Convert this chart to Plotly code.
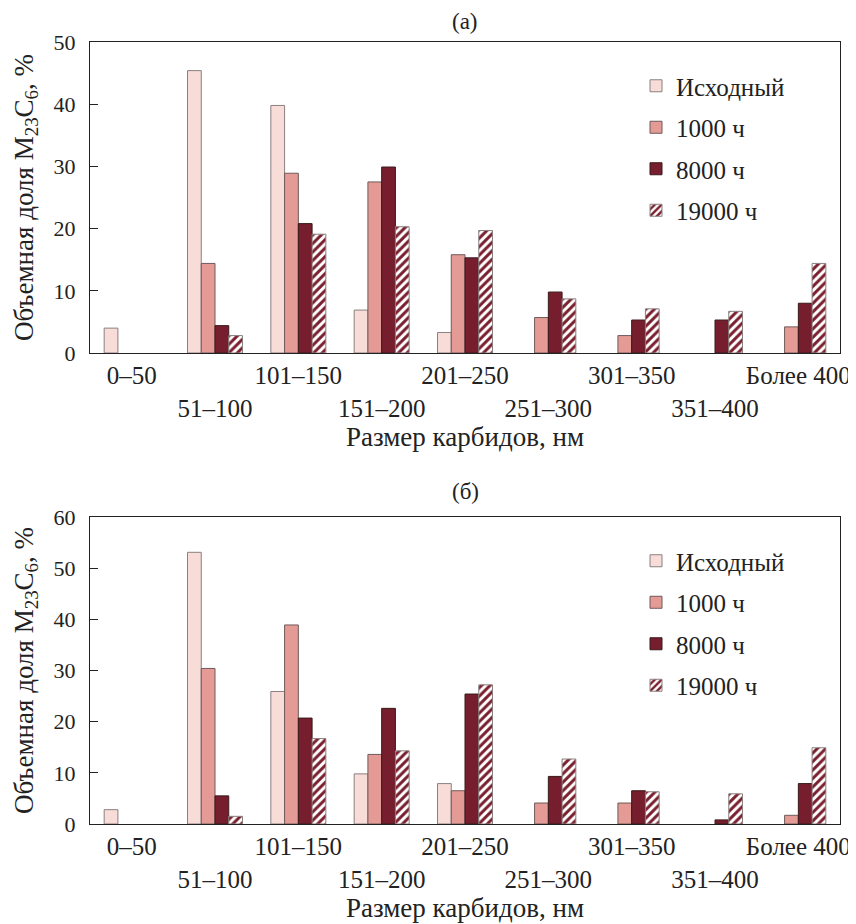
import plotly.graph_objects as go

categories = ["0–50", "51–100", "101–150", "151–200", "201–250",
              "251–300", "301–350", "351–400", "Более 400"]
tick_labels = ["0–50", "<br>51–100", "101–150", "<br>151–200", "201–250",
               "<br>251–300", "301–350", "<br>351–400", "Более 400"]
series_names = ["Исходный", "1000 ч", "8000 ч", "19000 ч"]

# panel (а)
a_initial = [4.0, 45.4, 39.8, 6.9, 3.3, 0, 0, 0, 0]
a_1000 = [0, 14.4, 28.9, 27.5, 15.8, 5.7, 2.8, 0, 4.2]
a_8000 = [0, 4.4, 20.8, 29.9, 15.3, 9.8, 5.3, 5.3, 8.0]
a_19000 = [0, 2.8, 19.1, 20.3, 19.7, 8.7, 7.1, 6.7, 14.4]

# panel (б)
b_initial = [2.8, 53.1, 25.9, 9.8, 7.9, 0, 0, 0, 0]
b_1000 = [0, 30.4, 38.9, 13.6, 6.5, 4.1, 4.1, 0, 1.7]
b_8000 = [0, 5.5, 20.7, 22.6, 25.4, 9.3, 6.5, 0.8, 7.9]
b_19000 = [0, 1.5, 16.7, 14.3, 27.2, 12.7, 6.3, 5.9, 14.9]

colors = ["#F8DCD8", "#E59B95", "#761E2E", "#FFFFFF"]
line_colors = ["#8a8080", "#6e5a5a", "#3a1a1a", "#8a8080"]
HATCH = "#7A1F2E"
FONT = "Liberation Serif, Times New Roman, serif"
TXT = "#222"
H = 924.0

fig = go.Figure()


def add_panel(vals, xa, ya, legend):
    for i, (name, v) in enumerate(zip(series_names, vals)):
        marker = dict(color=colors[i], line=dict(color=line_colors[i], width=1))
        if i == 3:
            marker["pattern"] = dict(shape="/", fgcolor=HATCH, bgcolor="#FFFFFF",
                                     size=6, solidity=0.5, fillmode="replace")
        fig.add_trace(go.Bar(x=categories, y=[y if y > 0 else None for y in v],
                             name=name, marker=marker,
                             xaxis=xa, yaxis=ya, legend=legend,
                             legendgroup=legend + name))


add_panel([a_initial, a_1000, a_8000, a_19000], "x", "y", "legend")
add_panel([b_initial, b_1000, b_8000, b_19000], "x2", "y2", "legend2")

xcommon = dict(tickmode="array", tickvals=categories, ticktext=tick_labels,
               tickangle=0, automargin=False,
               showline=True, mirror=True, linecolor=TXT, linewidth=1.2,
               ticks="", tickfont=dict(family=FONT, size=25, color=TXT),
               showgrid=False, zeroline=False,
               title=dict(text="Размер карбидов, нм",
                          font=dict(family=FONT, size=27, color=TXT), standoff=4))
ycommon = dict(showline=True, mirror=True, linecolor=TXT, linewidth=1.2,
               automargin=False,
               ticks="inside", ticklen=8, tickcolor=TXT,
               ticklabelstandoff=9,
               tickfont=dict(family=FONT, size=22, color=TXT),
               showgrid=False, zeroline=False,
               title=dict(text="Объемная доля M<sub>23</sub>C<sub>6</sub>, %",
                          font=dict(family=FONT, size=27, color=TXT), standoff=12))

legend_common = dict(font=dict(family=FONT, size=25, color=TXT),
                     bgcolor="rgba(0,0,0,0)", tracegroupgap=6,
                     xanchor="left", yanchor="top", itemwidth=30)

fig.update_layout(
    width=856, height=924,
    margin=dict(l=82, r=24, t=0, b=0),
    paper_bgcolor="white", plot_bgcolor="white",
    barmode="group", bargap=0.34, bargroupgap=0,
    xaxis=dict(domain=[0, 1], anchor="y", **xcommon),
    yaxis=dict(domain=[1 - 345 / H, 1 - 34 / H], anchor="x", range=[0, 50],
               tickvals=[0, 10, 20, 30, 40, 50], **ycommon),
    xaxis2=dict(domain=[0, 1], anchor="y2", **xcommon),
    yaxis2=dict(domain=[1 - 816 / H, 1 - 509 / H], anchor="x2", range=[0, 60],
                tickvals=[0, 10, 20, 30, 40, 50, 60], **ycommon),
    legend=dict(x=0.728, y=1 - 55 / H, **legend_common),
    legend2=dict(x=0.728, y=1 - 530 / H, **legend_common),
    annotations=[
        dict(text="(а)", x=0.5, y=1 - 13 / H, xref="paper", yref="paper",
             xanchor="center", yanchor="middle",
             showarrow=False, font=dict(family=FONT, size=23, color=TXT)),
        dict(text="(б)", x=0.5, y=1 - 483 / H, xref="paper", yref="paper",
             xanchor="center", yanchor="middle",
             showarrow=False, font=dict(family=FONT, size=23, color=TXT)),
    ],
)

fig.write_html("out.html")
